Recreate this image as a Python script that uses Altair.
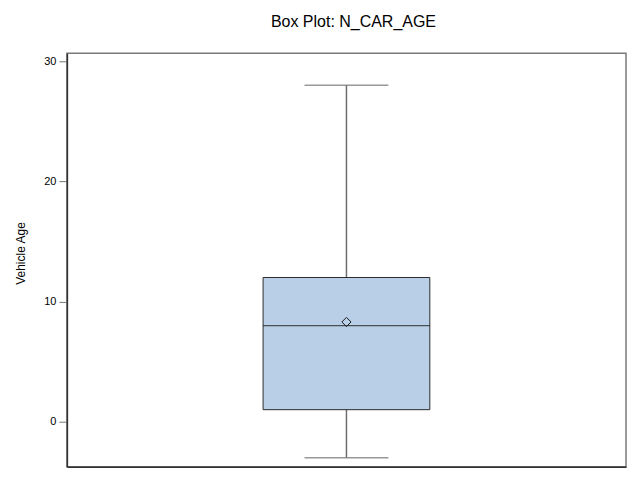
import altair as alt
import pandas as pd

# Summary statistics
variable = ["N_CAR_AGE"]
q1 = [1]
median = [8]
q3 = [12]
mean = [8.3]
whisker_low = [-3]
whisker_high = [28]
y_ticks = [0, 10, 20, 30]
y_domain = [-3.74, 30.66]

df = pd.DataFrame({
    "var": variable,
    "q1": q1,
    "median": median,
    "q3": q3,
    "mean": mean,
    "low": whisker_low,
    "high": whisker_high,
})

x_enc = alt.X("var:N", axis=alt.Axis(labels=False, ticks=False, title=None,
                                     domainColor="#333333", domainWidth=1.5))
y_scale = alt.Scale(domain=y_domain, nice=False, zero=False)
y_axis = alt.Axis(values=y_ticks, title="Vehicle Age", grid=False,
                  domainColor="#333333", domainWidth=1.5,
                  tickColor="#777777", tickSize=8, labelPadding=3,
                  labelFontSize=11, labelColor="black", labelFont="Liberation Sans",
                  titleFontSize=12, titleFontWeight="normal", titleColor="black",
                  titleFont="Liberation Sans", titlePadding=16, titleY=200)

base = alt.Chart(df)

whisker = base.mark_rule(color="#6e6e6e", strokeWidth=1.5).encode(
    x=x_enc,
    y=alt.Y("low:Q", scale=y_scale, axis=y_axis),
    y2="high:Q",
)
cap_low = base.mark_tick(color="#6e6e6e", size=84, thickness=1.5).encode(
    x=x_enc, y=alt.Y("low:Q", scale=y_scale)
)
cap_high = base.mark_tick(color="#6e6e6e", size=84, thickness=1.5).encode(
    x=x_enc, y=alt.Y("high:Q", scale=y_scale)
)
box = base.mark_bar(size=167, fill="#b9cfe7", stroke="#2b2b2b", strokeWidth=1).encode(
    x=x_enc, y=alt.Y("q1:Q", scale=y_scale), y2="q3:Q"
)
med = base.mark_tick(color="#1a1a1a", size=167, thickness=1.2).encode(
    x=x_enc, y=alt.Y("median:Q", scale=y_scale)
)
mean_pt = base.mark_point(shape="diamond", size=85, filled=False, color="#1a1a1a",
                          strokeWidth=1, opacity=1).encode(
    x=x_enc, y=alt.Y("mean:Q", scale=y_scale)
)

chart = alt.layer(whisker, cap_low, cap_high, box, med, mean_pt).properties(
    width=560,
    height=414,
    title=alt.TitleParams("Box Plot: N_CAR_AGE", fontSize=16, fontWeight="normal",
                          font="Liberation Sans", color="black", offset=23,
                          anchor="middle", dx=7),
    autosize=alt.AutoSizeParams(type="none"),
    padding={"left": 59, "top": 45, "right": 6, "bottom": 6},
).configure(
    background="white",
    view=alt.ViewConfig(stroke="#7a7a7a", strokeWidth=1.5),
)

chart.save("out.html", embed_options={"renderer": "svg", "actions": False})
